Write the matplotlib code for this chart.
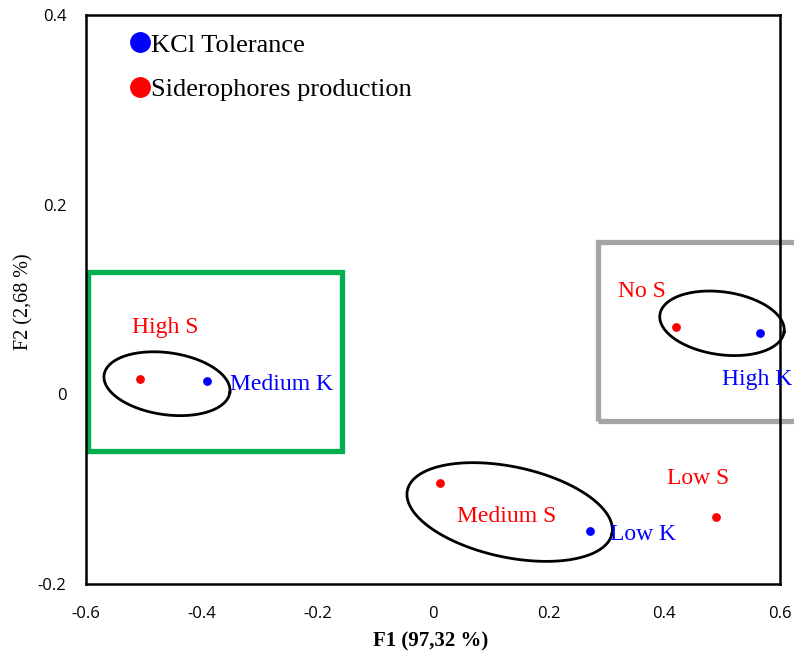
import numpy as np
import matplotlib
matplotlib.use('Agg')
import matplotlib.pyplot as plt
from matplotlib.lines import Line2D
from matplotlib.patches import Rectangle

# KCl tolerance (blue) and siderophores production (red) scores on F1/F2
k_labels = ['Medium K', 'High K', 'Low K']
k_f1 = [-0.390, 0.565, 0.272]
k_f2 = [0.014, 0.065, -0.144]

s_labels = ['High S', 'No S', 'Medium S', 'Low S']
s_f1 = [-0.507, 0.420, 0.012, 0.489]
s_f2 = [0.016, 0.071, -0.094, -0.129]

# label anchors (left / baseline) in data units
k_text_xy = [(-0.351, 0.005), (0.500, 0.010), (0.306, -0.154)]
s_text_xy = [(-0.521, 0.065), (0.320, 0.103), (0.041, -0.135), (0.404, -0.095)]

x_ticks = [-0.6, -0.4, -0.2, 0, 0.2, 0.4, 0.6]
x_tick_labels = ['-0.6', '-0.4', '-0.2', '0', '0.2', '0.4', '0.6']
y_ticks = [-0.2, 0, 0.2, 0.4]
y_tick_labels = ['-0.2', '0', '0.2', '0.4']

SERIF = 'Liberation Serif'
SANS = 'Open Sans'

fig = plt.figure(figsize=(7.94, 6.55), dpi=100)
ax = fig.add_axes([86 / 794, 1 - 584 / 655, 694 / 794, 569 / 655])
ax.set_xlim(-0.6, 0.6)
ax.set_ylim(-0.2, 0.4)

# pixels per data unit (used to draw ellipses with on-screen shape)
sx = 694 / 1.2
sy = 569 / 0.6


def draw_ellipse(cx, cy, a, b, angle):
    """Ellipse given in screen pixels (semi-axes, tilt), centered in data coords."""
    t = np.linspace(0, 2 * np.pi, 200)
    th = np.deg2rad(angle)
    px = a * np.cos(t) * np.cos(th) - b * np.sin(t) * np.sin(th)
    py = a * np.cos(t) * np.sin(th) + b * np.sin(t) * np.cos(th)
    ax.plot(cx + px / sx, cy + py / sy, color='black', lw=2.0, clip_on=False, zorder=3)


# group boxes
ax.add_patch(Rectangle((-0.5965, -0.0598), 0.4392, 0.1888, fill=False,
                       edgecolor='#00B050', lw=3.8, zorder=1))
ax.add_patch(Rectangle((0.2853, -0.0281), 0.40, 0.1887, fill=False,
                       edgecolor='#A5A5A5', lw=3.8, zorder=1, clip_on=False))

draw_ellipse(-0.460, 0.0112, 63.5, 31, -8)
draw_ellipse(0.4997, 0.0749, 62.7, 31.4, -8)
draw_ellipse(0.1326, -0.1241, 104.6, 45.3, -12)

ax.scatter(k_f1, k_f2, s=28, color='#0000FF', zorder=4, clip_on=False)
ax.scatter(s_f1, s_f2, s=28, color='#FF0000', zorder=4, clip_on=False)

for lab, (tx, ty) in zip(k_labels, k_text_xy):
    ax.text(tx, ty, lab, color='#0000FF', fontsize=17, family=SERIF,
            ha='left', va='baseline', clip_on=False)
for lab, (tx, ty) in zip(s_labels, s_text_xy):
    ax.text(tx, ty, lab, color='#FF0000', fontsize=17, family=SERIF,
            ha='left', va='baseline', clip_on=False)

ax.set_xticks(x_ticks)
ax.set_xticklabels(x_tick_labels, family=SANS, fontsize=12)
ax.set_yticks(y_ticks)
ax.set_yticklabels(y_tick_labels, family=SANS, fontsize=12)
ax.tick_params(axis='x', length=0, pad=16)
ax.tick_params(axis='y', length=0, pad=14)

for sp in ax.spines.values():
    sp.set_linewidth(1.8)
    sp.set_color('black')

ax.set_xlabel('F1 (97,32 %)', family=SERIF, fontsize=15, fontweight='bold')
ax.xaxis.set_label_coords(0.497, -0.084)
ax.set_ylabel('F2 (2,68 %)', family=SERIF, fontsize=14.5)
ax.yaxis.set_label_coords(-0.076, 0.497)

handles = [
    Line2D([], [], marker='o', ls='none', color='#0000FF', markersize=14),
    Line2D([], [], marker='o', ls='none', color='#FF0000', markersize=14),
]
ax.legend(handles, ['KCl Tolerance', 'Siderophores production'],
          loc='upper left', bbox_to_anchor=(0.06, 0.968), frameon=False,
          prop={'family': SERIF, 'size': 19}, handlelength=0.9,
          handletextpad=0.0, borderpad=0, borderaxespad=0, labelspacing=0.8)

fig.savefig('out.png', dpi=100, facecolor='white')
